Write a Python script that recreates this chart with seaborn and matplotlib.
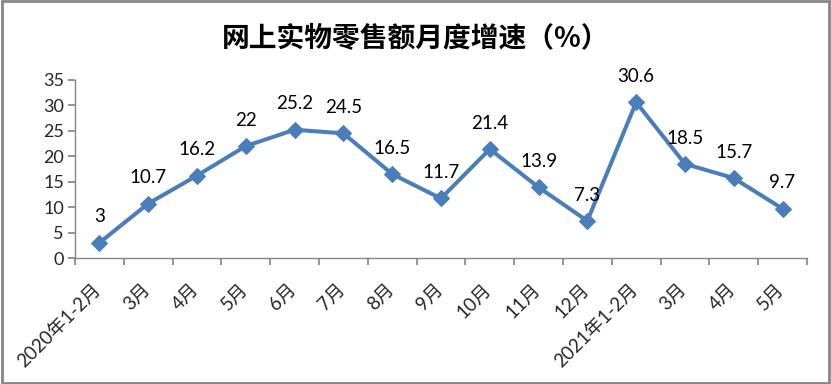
import matplotlib
matplotlib.use("Agg")
import matplotlib.pyplot as plt
import matplotlib.transforms as mtransforms
import seaborn as sns
import pandas as pd
from matplotlib.patches import Rectangle

categories = ["2020年1-2月", "3月", "4月", "5月", "6月", "7月", "8月", "9月", "10月",
              "11月", "12月", "2021年1-2月", "3月", "4月", "5月"]
values = [3, 10.7, 16.2, 22, 25.2, 24.5, 16.5, 11.7, 21.4, 13.9, 7.3, 30.6, 18.5, 15.7, 9.7]
value_labels = ["3", "10.7", "16.2", "22", "25.2", "24.5", "16.5", "11.7", "21.4",
                "13.9", "7.3", "30.6", "18.5", "15.7", "9.7"]
yticks = [0, 5, 10, 15, 20, 25, 30, 35]

sns.set_theme(style="white")
plt.rcParams['font.family'] = ['Lato', 'Noto Sans CJK SC', 'DejaVu Sans']

df = pd.DataFrame({"idx": range(len(values)), "value": values})

fig = plt.figure(figsize=(8.31, 3.84), dpi=100)
ax = fig.add_axes([0.0903, 0.328, 0.8807, 0.464])
color = "#4a7ebb"
sns.lineplot(data=df, x="idx", y="value", ax=ax, color=color, linewidth=2.9,
             marker="D", markersize=8.5, markeredgecolor=color, markerfacecolor=color)

ax.set_xlim(-0.5, len(values) - 0.5)
ax.set_ylim(0, 35)
ax.set_yticks(yticks)
ax.set_yticklabels([str(t) for t in yticks], fontsize=13)
ax.set_xticks([i - 0.5 for i in range(len(values) + 1)], minor=False)
ax.set_xticklabels([])
ax.set_xticks(range(len(values)), minor=True)
ax.set_xticklabels(categories, minor=True, rotation=45, ha="right",
                   rotation_mode="anchor", fontsize=13.5)
ax.tick_params(axis="x", which="minor", length=0, pad=16)
ax.tick_params(axis="x", which="major", length=5, color="#868686", direction="out", bottom=True)
ax.tick_params(axis="y", length=5, color="#868686", direction="out", left=True, pad=3)
shift = mtransforms.ScaledTranslation(-0.07, 0, fig.dpi_scale_trans)
for lbl in ax.get_xticklabels(minor=True):
    lbl.set_transform(lbl.get_transform() + shift)
ax.set_xlabel("")
ax.set_ylabel("")
for s in ["top", "right"]:
    ax.spines[s].set_visible(False)
for s in ["left", "bottom"]:
    ax.spines[s].set_color("#868686")
    ax.spines[s].set_linewidth(1)

for i, (v, lab) in enumerate(zip(values, value_labels)):
    ax.annotate(lab, (i, v), xytext=(0, 12.5), textcoords="offset points",
                ha="center", va="bottom", fontsize=13.5, color="black")

fig.text(0.5, 0.9, "网上实物零售额月度增速（%）", ha="center", va="center",
         fontsize=20, fontweight="bold", color="black",
         family=['Noto Sans CJK SC', 'DejaVu Sans'])

fig.patches.append(Rectangle((0.002, 0.003), 0.996, 0.994, transform=fig.transFigure,
                             fill=False, edgecolor="#868686", linewidth=2))

fig.savefig("out.png", dpi=100)
